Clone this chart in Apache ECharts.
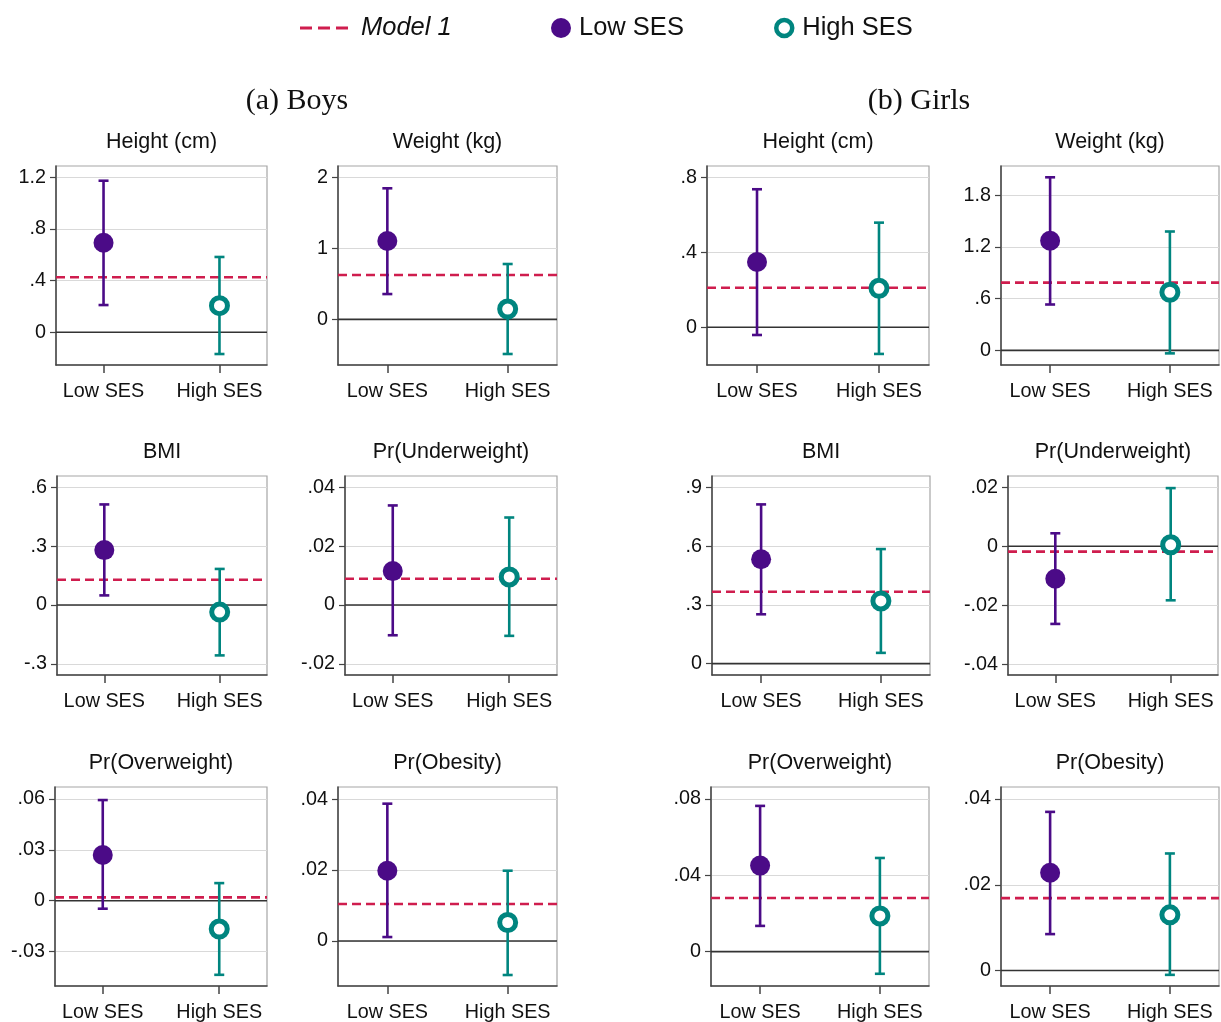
<!DOCTYPE html>
<html><head><meta charset="utf-8">
<script src="https://cdn.jsdelivr.net/npm/echarts@6/dist/echarts.min.js"></script>
<style>html,body{margin:0;padding:0;background:#fff}#c{width:1221px;height:1022px}</style>
</head><body><div id="c"></div>
<script>
// ---------------- data ----------------
const categories = ['Low SES', 'High SES'];
const groupTitles = ['(a) Boys', '(b) Girls'];
const panelTitles = ['Height (cm)', 'Weight (kg)', 'Height (cm)', 'Weight (kg)',
  'BMI', 'Pr(Underweight)', 'BMI', 'Pr(Underweight)',
  'Pr(Overweight)', 'Pr(Obesity)', 'Pr(Overweight)', 'Pr(Obesity)'];
const lowEst  = [0.693, 1.103, 0.348, 1.272, 0.280, 0.0115, 0.533, -0.0110, 0.0270, 0.0198, 0.0451, 0.0228];
const lowLo   = [0.211, 0.356, -0.041, 0.532, 0.049, -0.0103, 0.252, -0.0263, -0.0047, 0.0011, 0.0135, 0.0085];
const lowHi   = [1.173, 1.845, 0.736, 2.008, 0.513, 0.0338, 0.813, 0.0044, 0.0594, 0.0387, 0.0764, 0.0370];
const highEst = [0.206, 0.145, 0.208, 0.674, -0.036, 0.0095, 0.320, 0.0005, -0.0167, 0.0052, 0.0187, 0.0130];
const highLo  = [-0.168, -0.488, -0.142, -0.035, -0.257, -0.0105, 0.055, -0.0183, -0.0437, -0.0096, -0.0116, -0.0010];
const highHi  = [0.583, 0.779, 0.558, 1.379, 0.184, 0.0297, 0.585, 0.0197, 0.0104, 0.0198, 0.0491, 0.0273];
const model1  = [0.426, 0.624, 0.211, 0.786, 0.129, 0.0089, 0.367, -0.0018, 0.0020, 0.0104, 0.0281, 0.0169];
const yTicks = [
  [0, 0.4, 0.8, 1.2], [0, 1, 2], [0, 0.4, 0.8], [0, 0.6, 1.2, 1.8],
  [-0.3, 0, 0.3, 0.6], [-0.02, 0, 0.02, 0.04], [0, 0.3, 0.6, 0.9], [-0.04, -0.02, 0, 0.02],
  [-0.03, 0, 0.03, 0.06], [0, 0.02, 0.04], [0, 0.04, 0.08], [0, 0.02, 0.04]
];
const yMin = [-0.253, -0.643, -0.201, -0.17, -0.357, -0.0238, -0.058, -0.0436, -0.0503, -0.0127, -0.018, -0.0036];
const yMax = [1.287, 2.159, 0.86, 2.139, 0.658, 0.0438, 0.958, 0.0238, 0.0671, 0.0434, 0.0863, 0.0428];

// ---------------- layout / style ----------------
const gridRects = [
  [56, 166, 211, 199], [338, 166, 219, 199], [707, 166, 222, 199], [1001, 166, 218, 199],
  [57, 476, 210, 199], [345, 476, 212, 199], [712, 476, 218, 199], [1008, 476, 210, 199],
  [55, 787, 212, 199], [338, 787, 219, 199], [711, 787, 218, 199], [1001, 787, 218, 199]
];
const titleTops = [131, 441, 752];
const groupCenters = [297, 919];
const xMin = 0.59, xMax = 2.41;
const PURPLE = '#4b0b87', TEAL = '#00857f', RED = '#cf1d4e';
const FONT = '"Liberation Sans", Arial, Helvetica, sans-serif';
const SERIF = '"Liberation Serif", "Times New Roman", serif';

const fmt = v => {
  const s = String(Math.round(v * 10000) / 10000);
  return s.replace(/^(-?)0\./, '$1.');
};

function errorBar(color) {
  return function (params, api) {
    const x = api.value(0);
    const pLo = api.coord([x, api.value(1)]);
    const pHi = api.coord([x, api.value(2)]);
    const cap = 5;
    const style = { stroke: color, lineWidth: 2.6 };
    return {
      type: 'group',
      children: [
        { type: 'line', shape: { x1: pLo[0], y1: pLo[1], x2: pHi[0], y2: pHi[1] }, style },
        { type: 'line', shape: { x1: pLo[0] - cap, y1: pLo[1], x2: pLo[0] + cap, y2: pLo[1] }, style },
        { type: 'line', shape: { x1: pHi[0] - cap, y1: pHi[1], x2: pHi[0] + cap, y2: pHi[1] }, style }
      ]
    };
  };
}

const grid = [], xAxis = [], yAxis = [], series = [], title = [];

groupTitles.forEach((t, g) => {
  title.push({
    text: t, left: groupCenters[g], top: 86, padding: 0, textAlign: 'center',
    textStyle: { fontFamily: SERIF, fontSize: 30, fontWeight: 'normal', color: '#111' }
  });
});

panelTitles.forEach((t, i) => {
  const r = gridRects[i];
  grid.push({ left: r[0], top: r[1], width: r[2], height: r[3], show: true,
    borderColor: '#a6a6a6', borderWidth: 1.2, backgroundColor: '#fff', outerBoundsMode: 'none', containLabel: false });
  title.push({
    text: t, left: r[0] + r[2] / 2, top: titleTops[Math.floor(i / 4)], padding: 0, textAlign: 'center',
    textStyle: { fontFamily: FONT, fontSize: 21.5, fontWeight: 'normal', color: '#111' }
  });
  xAxis.push({
    type: 'value', gridIndex: i, min: xMin, max: xMax,
    axisLine: { show: true, onZero: false, lineStyle: { color: '#444', width: 1.5 } },
    axisTick: { show: true, length: 8, customValues: [1, 2], lineStyle: { color: '#444', width: 1.5 } },
    axisLabel: { show: true, customValues: [1, 2], margin: 17, fontFamily: FONT, fontSize: 19.8, color: '#111',
      formatter: v => categories[Math.round(v) - 1] || '' },
    splitLine: { show: false }
  });
  yAxis.push({
    type: 'value', gridIndex: i, min: yMin[i], max: yMax[i],
    axisLine: { show: true, onZero: false, lineStyle: { color: '#444', width: 1.5 } },
    axisTick: { show: true, length: 6, customValues: yTicks[i], lineStyle: { color: '#444', width: 1.2 } },
    axisLabel: { show: true, customValues: yTicks[i], margin: 10, fontFamily: FONT, fontSize: 19.8, color: '#111',
      formatter: fmt },
    splitLine: { show: true, lineStyle: { color: '#d9d9d9', width: 1 } }
  });
  series.push({
    type: 'line', xAxisIndex: i, yAxisIndex: i, data: [[xMin, 0], [xMax, 0]], symbol: 'none', silent: true,
    lineStyle: { color: '#333', width: 1.6 }, z: 1, animation: false
  });
  series.push({
    type: 'line', name: 'Model 1', xAxisIndex: i, yAxisIndex: i, data: [[xMin, model1[i]], [xMax, model1[i]]],
    symbol: 'none', silent: true, lineStyle: { color: RED, width: 2.6, type: [9, 5] }, itemStyle: { color: RED },
    z: 2, animation: false
  });
  series.push({
    type: 'custom', name: 'Low SES CI', xAxisIndex: i, yAxisIndex: i, renderItem: errorBar(PURPLE),
    data: [[1, lowLo[i], lowHi[i]]], encode: { x: 0, y: [1, 2] }, z: 3, silent: true, animation: false
  });
  series.push({
    type: 'custom', name: 'High SES CI', xAxisIndex: i, yAxisIndex: i, renderItem: errorBar(TEAL),
    data: [[2, highLo[i], highHi[i]]], encode: { x: 0, y: [1, 2] }, z: 3, silent: true, animation: false
  });
  series.push({
    type: 'scatter', name: 'Low SES', xAxisIndex: i, yAxisIndex: i, data: [[1, lowEst[i]]],
    symbol: 'circle', symbolSize: 20, itemStyle: { color: PURPLE, opacity: 1 }, z: 4, silent: true, animation: false
  });
  series.push({
    type: 'scatter', name: 'High SES', xAxisIndex: i, yAxisIndex: i, data: [[2, highEst[i]]],
    symbol: 'circle', symbolSize: 16, itemStyle: { color: '#fff', borderColor: TEAL, borderWidth: 5, opacity: 1 },
    z: 4, silent: true, animation: false
  });
});

const legendText = { fontFamily: FONT, fontSize: 25.5, color: '#111' };
const legend = [
  { data: [{ name: 'Model 1', icon: 'path://M0 0H12V3H0Z M18 0H30V3H18Z M36 0H48V3H36Z',
      itemStyle: { color: RED, borderWidth: 0 } }], left: 300, top: 15, padding: 0,
    itemWidth: 48, itemHeight: 3, symbolKeepAspect: false, selectedMode: false,
    textStyle: Object.assign({}, legendText, { fontStyle: 'italic', padding: [0, 0, 0, 8] }) },
  { data: [{ name: 'Low SES', itemStyle: { color: PURPLE } }], left: 551, top: 15, padding: 0,
    itemWidth: 26, itemHeight: 20, selectedMode: false, textStyle: legendText },
  { data: [{ name: 'High SES', itemStyle: { color: '#fff', borderColor: TEAL, borderWidth: 4.5 } }], left: 774, top: 15, padding: 0,
    itemWidth: 26, itemHeight: 16, selectedMode: false, textStyle: legendText }
];

const chart = echarts.init(document.getElementById('c'), null, { renderer: 'canvas' });
chart.setOption({ backgroundColor: '#fff', animation: false, title, legend, grid, xAxis, yAxis, series });
</script></body></html>
